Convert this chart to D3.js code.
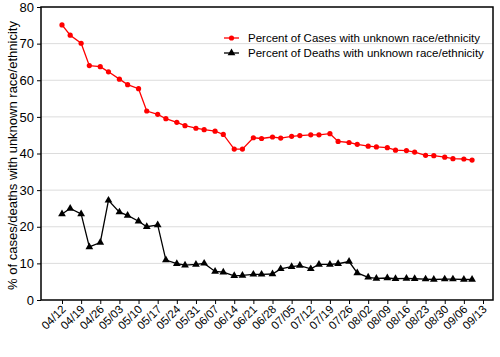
<!DOCTYPE html>
<html><head><meta charset="utf-8">
<script src="https://cdn.jsdelivr.net/npm/d3@7"></script>
<style>body{margin:0;background:#fff;}svg{display:block;font-family:"Liberation Sans",Arial,sans-serif;}</style>
</head><body><svg id="c" width="500" height="357"></svg>
<script>
const dates = ["04/12","04/15","04/19","04/22","04/26","04/29","05/03","05/06","05/10","05/13","05/17","05/20","05/24","05/27","05/31","06/03","06/07","06/10","06/14","06/17","06/21","06/24","06/28","07/01","07/05","07/08","07/12","07/15","07/19","07/22","07/26","07/29","08/02","08/05","08/09","08/12","08/16","08/19","08/23","08/26","08/30","09/02","09/06","09/09"];
const casesPct = [75.1,72.3,70.1,64.0,63.7,62.3,60.3,58.8,57.7,51.6,50.7,49.5,48.5,47.6,46.9,46.5,46.1,45.2,41.2,41.2,44.3,44.1,44.5,44.2,44.7,44.9,45.1,45.1,45.4,43.3,43.0,42.5,42.0,41.8,41.6,40.9,40.8,40.4,39.5,39.4,39.0,38.6,38.5,38.2];
const deathsPct = [23.5,25.0,23.5,14.5,15.7,27.2,24.0,23.1,21.5,20.0,20.5,10.9,9.9,9.5,9.7,10.0,7.8,7.6,6.6,6.7,7.0,7.0,7.1,8.5,9.1,9.4,8.5,9.7,9.7,9.9,10.5,7.4,6.2,5.9,6.0,5.8,5.9,5.8,5.7,5.6,5.7,5.7,5.6,5.6];
const xTickLabels = ["04/12","04/19","04/26","05/03","05/10","05/17","05/24","05/31","06/07","06/14","06/21","06/28","07/05","07/12","07/19","07/26","08/02","08/09","08/16","08/23","08/30","09/06","09/13"];
const yTicks = [0,10,20,30,40,50,60,70,80];
const seriesNames = ["Percent of Cases with unknown race/ethnicity","Percent of Deaths with unknown race/ethnicity"];

const parse = s => { const [m,d] = s.split("/").map(Number); return new Date(2020, m-1, d); };
const svg = d3.select("#c");
const L = 41, R = 493, T = 7, B = 300;
const x = d3.scaleTime().domain([parse("04/12"), parse("09/13")]).range([62, 483]);
const y = d3.scaleLinear().domain([0, 80]).range([B, T]);

// gridlines
svg.append("g").selectAll("line").data(yTicks.filter(v => v > 0 && v < 80)).join("line")
  .attr("x1", L).attr("x2", R).attr("y1", d => y(d)).attr("y2", d => y(d))
  .attr("stroke", "#dcdcdc").attr("stroke-width", 1);

// y axis
const ya = svg.append("g").attr("transform", `translate(${L},0)`)
  .call(d3.axisLeft(y).tickValues(yTicks).tickSize(4).tickPadding(3));
ya.select(".domain").remove();
ya.selectAll("text").attr("font-size", 13).attr("fill", "#000").attr("font-family", "Liberation Sans, Arial, sans-serif");
ya.selectAll("line").attr("stroke", "#000");

// x axis
const xa = svg.append("g").attr("transform", `translate(0,${B})`)
  .call(d3.axisBottom(x).tickValues(xTickLabels.map(parse)).tickFormat(d3.timeFormat("%m/%d")).tickSize(4));
xa.select(".domain").remove();
xa.selectAll("line").attr("stroke", "#000");
xa.selectAll("text").attr("font-size", 11.5).attr("fill", "#000").attr("font-family", "Liberation Sans, Arial, sans-serif")
  .attr("text-anchor", "end").attr("dy", null).attr("y", 0)
  .attr("transform", "translate(4,10) rotate(-45)");

// frame
svg.append("rect").attr("x", L).attr("y", T).attr("width", R - L).attr("height", B - T)
  .attr("fill", "none").attr("stroke", "#000").attr("stroke-width", 1.5);

// y title
svg.append("text").attr("transform", `translate(17,${(T+B)/2+2}) rotate(-90)`)
  .attr("text-anchor", "middle").attr("font-size", 13).text("% of cases/deaths with unknown race/ethnicity");

const line = d3.line().x((d,i) => x(parse(dates[i]))).y(d => y(d));
// cases
svg.append("path").datum(casesPct).attr("d", line).attr("fill", "none").attr("stroke", "#ff0000").attr("stroke-width", 1.3);
svg.append("g").selectAll("circle").data(casesPct).join("circle")
  .attr("cx", (d,i) => x(parse(dates[i]))).attr("cy", d => y(d)).attr("r", 2.6).attr("fill", "#ff0000");
// deaths
svg.append("path").datum(deathsPct).attr("d", line).attr("fill", "none").attr("stroke", "#000").attr("stroke-width", 1.3);
const tri = d3.symbol().type(d3.symbolTriangle).size(26);
svg.append("g").selectAll("path").data(deathsPct).join("path")
  .attr("transform", (d,i) => `translate(${x(parse(dates[i]))},${y(d)})`).attr("d", tri).attr("fill", "#000");

// legend
const lg = svg.append("g");
const colors = ["#ff0000", "#000"];
seriesNames.forEach((name, i) => {
  const ly = 38 + i * 15;
  lg.append("line").attr("x1", 224).attr("x2", 239).attr("y1", ly).attr("y2", ly).attr("stroke", colors[i]).attr("stroke-width", 1.3);
  if (i === 0) lg.append("circle").attr("cx", 231.5).attr("cy", ly).attr("r", 2.6).attr("fill", colors[i]);
  else lg.append("path").attr("transform", `translate(231.5,${ly})`).attr("d", tri).attr("fill", colors[i]);
  lg.append("text").attr("x", 248).attr("y", ly + 4.3).attr("font-size", 11.5).attr("fill", "#000").text(name);
});
</script></body></html>
